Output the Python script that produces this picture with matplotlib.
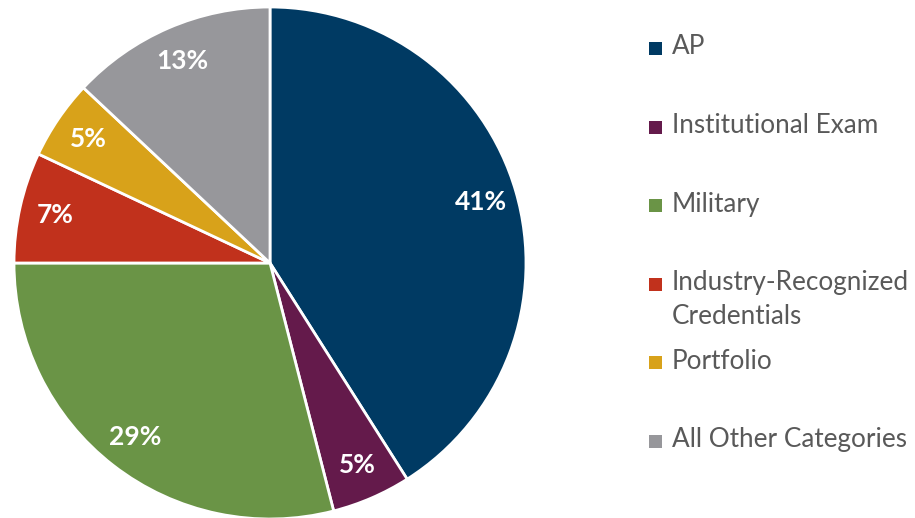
import matplotlib.pyplot as plt
from matplotlib.patches import Rectangle

categories = ['AP', 'Institutional Exam', 'Military',
              'Industry-Recognized\nCredentials', 'Portfolio', 'All Other Categories']
shares = [41, 5, 29, 7, 5, 13]
colors = ['#003a63', '#641a4b', '#6a9446', '#c1311c', '#d8a21a', '#97979b']

W, H = 915, 518
fig = plt.figure(figsize=(W / 100, H / 100), dpi=100)

# pie axes: centre (270, 263), radius 256 px
cx, cy, r = 270, 263, 256
ax = fig.add_axes([(cx - r) / W, (H - cy - r) / H, 2 * r / W, 2 * r / H])
wedges, texts, autotexts = ax.pie(
    shares, colors=colors, startangle=90, counterclock=False,
    autopct='%d%%', pctdistance=0.86, radius=1,
    wedgeprops=dict(edgecolor='white', linewidth=2),
    textprops=dict(color='white', fontsize=19, fontweight='bold', family='Lato'))
ax.set_xlim(-1, 1)
ax.set_ylim(-1, 1)
ax.set_aspect('equal')
ax.axis('off')

# legend drawn by hand, first line of each entry 78.6 px apart
for i, (lab, col) in enumerate(zip(categories, colors)):
    yc = 48.5 + i * 78.6
    fig.patches.append(Rectangle((649 / W, 1 - (yc + 6.5) / H), 13 / W, 13 / H,
                                 transform=fig.transFigure, facecolor=col,
                                 edgecolor='none'))
    fig.text(672 / W, 1 - (yc - 14) / H, lab, fontsize=18.8, color='#595959',
             family='Lato', va='top', ha='left', linespacing=1.45)

fig.savefig('out.png', dpi=100)
